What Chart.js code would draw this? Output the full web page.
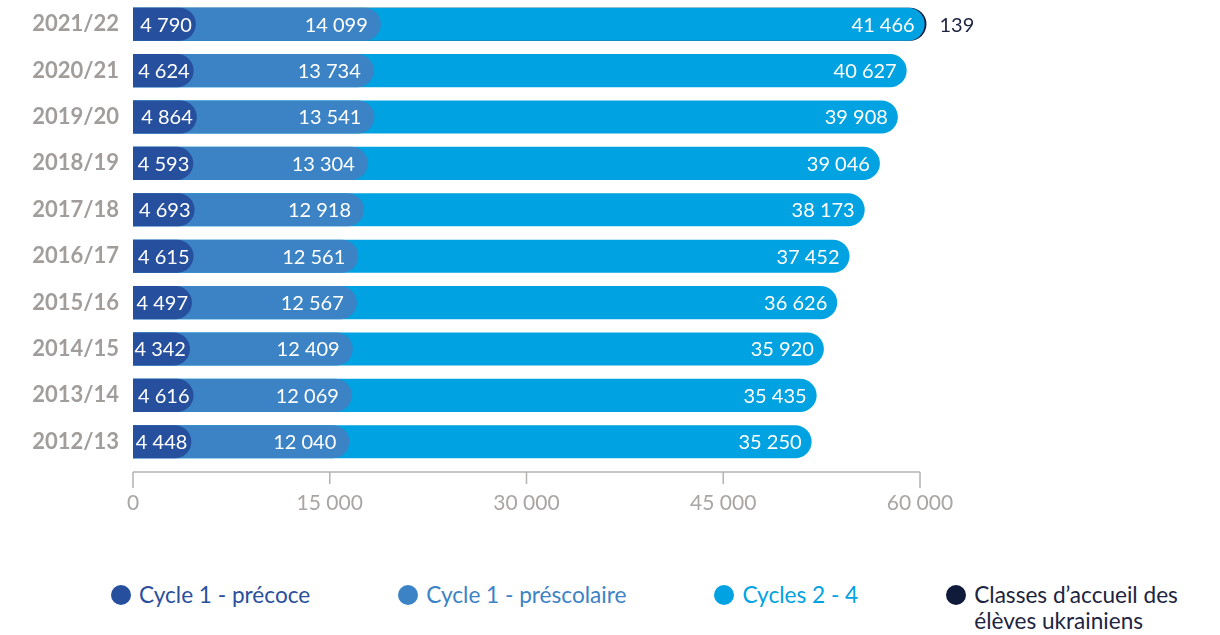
<!DOCTYPE html>
<html>
<head>
<meta charset="utf-8">
<script src="https://cdn.jsdelivr.net/npm/chart.js@4.4.1/dist/chart.umd.min.js"></script>
<style>
  html, body { margin: 0; padding: 0; background: #fff; }
  #wrap { position: relative; width: 1220px; height: 635px; }
  #box { position: absolute; left: 0; top: 0; width: 1220px; height: 540px; }
  #legend { position: absolute; left: 111px; top: 582px; display: flex; gap: 88px;
            font-family: Lato, sans-serif; font-size: 22.6px; line-height: 26px; }
  .item { display: flex; align-items: flex-start; }
  .dot { width: 20px; height: 20px; border-radius: 50%; margin: 3px 8px 0 0; flex: none; }
  .item:last-child span { width: 225px; }
</style>
</head>
<body>
<div id="wrap">
  <div id="box"><canvas id="chart"></canvas></div>
  <div id="legend"></div>
</div>
<script>
// school years, top to bottom
const years = ['2021/22', '2020/21', '2019/20', '2018/19', '2017/18',
               '2016/17', '2015/16', '2014/15', '2013/14', '2012/13'];

const precoce     = [4790, 4624, 4864, 4593, 4693, 4615, 4497, 4342, 4616, 4448];
const prescolaire = [14099, 13734, 13541, 13304, 12918, 12561, 12567, 12409, 12069, 12040];
const cycles      = [41466, 40627, 39908, 39046, 38173, 37452, 36626, 35920, 35435, 35250];
const ukrainiens  = [139, 0, 0, 0, 0, 0, 0, 0, 0, 0];

const seriesNames  = ['Cycle 1 - précoce', 'Cycle 1 - préscolaire', 'Cycles 2 - 4',
                      'Classes d’accueil des élèves ukrainiens'];
const seriesColors = ['#264f9e', '#3b83c5', '#00a2e1', '#101a3a'];
const textColors   = ['#2a4f9c', '#3b83c5', '#00a2e1', '#1e2440'];
const xTicks = [0, 15000, 30000, 45000, 60000];

const layers = [precoce, prescolaire, cycles, ukrainiens];
const labelPad = [4, 13, 10];

const fmt = v => String(v).replace(/\B(?=(\d{3})+(?!\d))/g, ' ');

Chart.defaults.font.family = 'Lato, sans-serif';

// each layer is drawn from 0 to its running total, shorter ones on top,
// so every rounded end sits over the next segment
const ends = layers.map((arr, k) =>
  arr.map((_, i) => layers.slice(0, k + 1).reduce((s, a) => s + a[i], 0)));

const datasets = layers.map((arr, k) => ({
  label: seriesNames[k],
  data: ends[k].map((v, i) => (arr[i] ? v : null)),
  backgroundColor: seriesColors[k],
  order: k,
  grouped: false,
  clip: false,
  borderSkipped: false,
  borderRadius: { topLeft: 0, bottomLeft: 0, topRight: 20, bottomRight: 20 },
  barPercentage: 0.713,
  categoryPercentage: 1
}));

const barLabels = {
  id: 'barLabels',
  afterDatasetsDraw(chart) {
    const ctx = chart.ctx;
    ctx.save();
    ctx.font = '20px Lato, sans-serif';
    ctx.textBaseline = 'middle';
    layers.forEach((arr, k) => {
      chart.getDatasetMeta(k).data.forEach((bar, i) => {
        const v = arr[i];
        if (!v) return;
        if (k < 3) {
          ctx.fillStyle = '#ffffff';
          ctx.textAlign = 'right';
          ctx.fillText(fmt(v), bar.x - labelPad[k], bar.y + 1);
        } else {
          ctx.fillStyle = textColors[3];
          ctx.textAlign = 'left';
          ctx.fillText(fmt(v), bar.x + 13, bar.y + 1);
        }
      });
    });
    ctx.restore();
  }
};

// axis line sits a little below the last bar, with longer end ticks
const xAxisLine = {
  id: 'xAxisLine',
  afterDraw(chart) {
    const ctx = chart.ctx;
    const xs = chart.scales.x;
    const y0 = chart.chartArea.bottom + 7;
    ctx.save();
    ctx.strokeStyle = '#b5b2b0';
    ctx.lineWidth = 1.5;
    ctx.beginPath();
    ctx.moveTo(xs.getPixelForValue(xTicks[0]), y0);
    ctx.lineTo(xs.getPixelForValue(xTicks[xTicks.length - 1]), y0);
    xTicks.forEach((v, i) => {
      const px = xs.getPixelForValue(v);
      const len = (i === 0 || i === xTicks.length - 1) ? 16 : 12;
      ctx.moveTo(px, y0);
      ctx.lineTo(px, y0 + len);
    });
    ctx.stroke();
    ctx.restore();
  }
};

new Chart(document.getElementById('chart'), {
  type: 'bar',
  data: { labels: years, datasets },
  options: {
    indexAxis: 'y',
    responsive: true,
    maintainAspectRatio: false,
    animation: false,
    layout: { padding: { top: 1, right: 300, bottom: 0, left: 0 } },
    plugins: { legend: { display: false }, tooltip: { enabled: false } },
    scales: {
      x: {
        min: 0,
        max: 60000,
        afterFit: s => { s.height = 75; s.paddingLeft = 0; s.paddingRight = 0; },
        afterBuildTicks: s => { s.ticks = xTicks.map(v => ({ value: v })); },
        grid: { display: false, drawTicks: false },
        border: { display: false },
        ticks: {
          padding: 26,
          color: '#a9a5a3',
          font: { size: 21 },
          callback: v => fmt(v)
        }
      },
      y: {
        // keep the label half-heights from pushing the bars down
        afterFit: s => { s.width = 133; s.paddingTop = 0; s.paddingBottom = 0; },
        grid: { display: false, drawTicks: false },
        border: { display: false },
        ticks: {
          padding: 14,
          color: '#a19d9b',
          font: { size: 22, weight: 'bold' }
        }
      }
    }
  },
  plugins: [barLabels, xAxisLine]
});

const legend = document.getElementById('legend');
seriesNames.forEach((name, k) => {
  const item = document.createElement('div');
  item.className = 'item';
  const dot = document.createElement('div');
  dot.className = 'dot';
  dot.style.background = seriesColors[k];
  const txt = document.createElement('span');
  txt.textContent = name;
  txt.style.color = textColors[k];
  item.appendChild(dot);
  item.appendChild(txt);
  legend.appendChild(item);
});
</script>
</body>
</html>
